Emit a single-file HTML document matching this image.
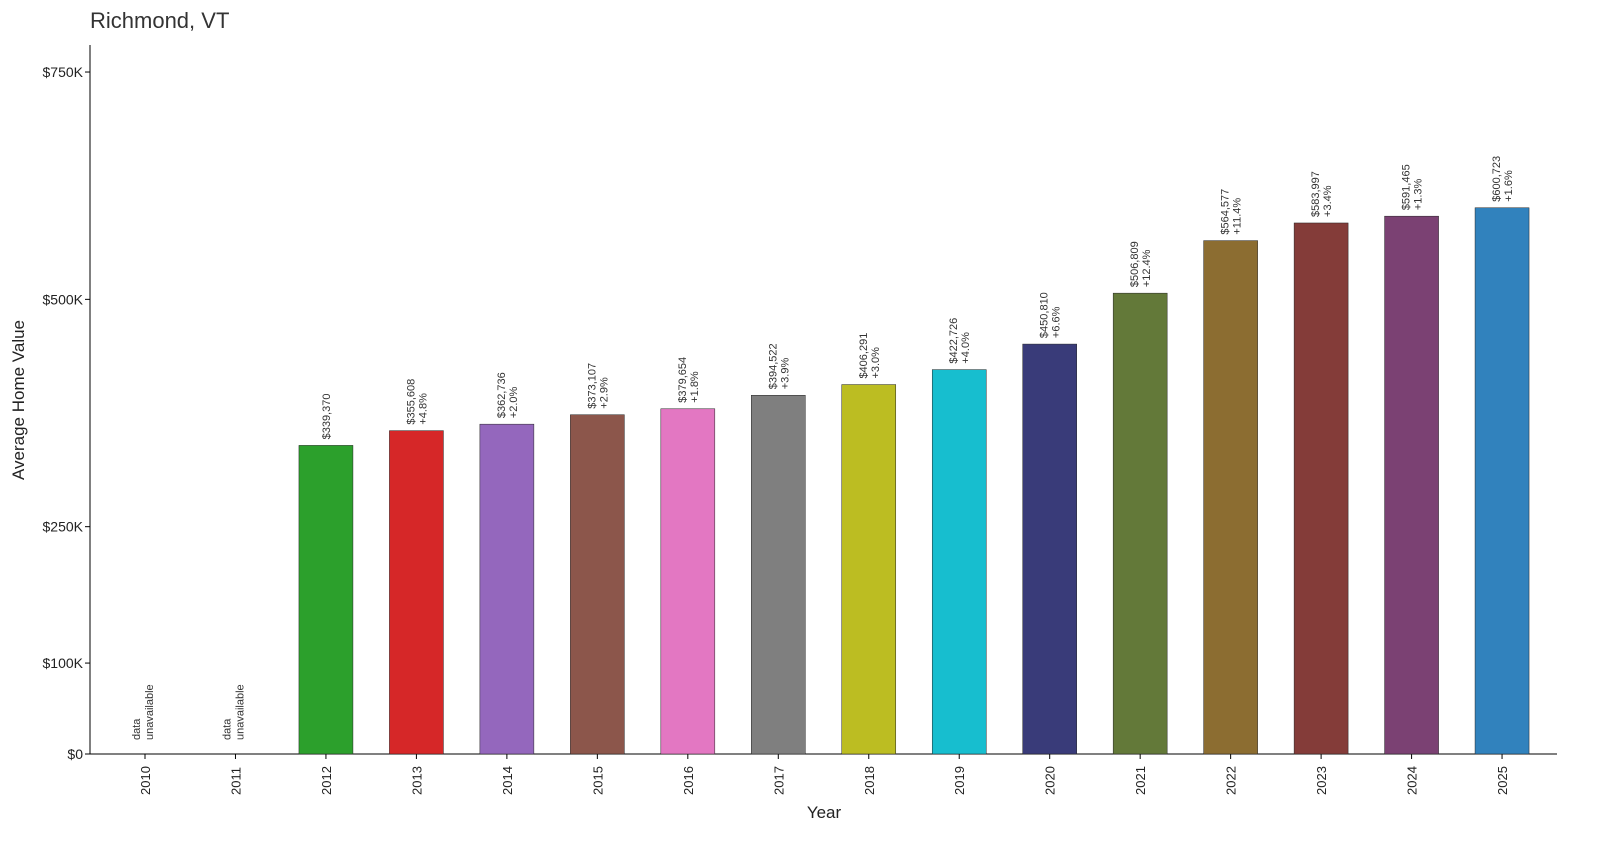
<!DOCTYPE html>
<html><head><meta charset="utf-8"><style>body{margin:0;background:#fff}svg{display:block;font-family:"Liberation Sans","DejaVu Sans",sans-serif}</style></head>
<body>
<svg id="chart" width="1600" height="848" viewBox="0 0 1600 848">
<text x="90" y="28" font-size="22" fill="#333">Richmond, VT</text>
<g id="axes"></g><g id="bars"></g>
<text x="824" y="818" font-size="17" text-anchor="middle" fill="#222">Year</text>
<text transform="translate(24,400) rotate(-90)" font-size="17" text-anchor="middle" fill="#222">Average Home Value</text>
</svg>
<script>
const years=[2010,2011,2012,2013,2014,2015,2016,2017,2018,2019,2020,2021,2022,2023,2024,2025];
const values=[null,null,339370,355608,362736,373107,379654,394522,406291,422726,450810,506809,564577,583997,591465,600723];
const changes=[null,null,null,"+4.8%","+2.0%","+2.9%","+1.8%","+3.9%","+3.0%","+4.0%","+6.6%","+12.4%","+11.4%","+3.4%","+1.3%","+1.6%"];
const colors=["#1f77b4","#ff7f0e","#2ca02c","#d62728","#9467bd","#8c564b","#e377c2","#7f7f7f","#bcbd22","#17becf","#393b79","#637939","#8c6d31","#843c39","#7b4173","#3182bd"];
const yTicks=[0,100000,250000,500000,750000];
const yTickLabels=["$0","$100K","$250K","$500K","$750K"];
const NS="http://www.w3.org/2000/svg";
const y=v=>754-v*0.0009093;
const x=i=>145+i*90.47;
function mk(t,a,p){const e=document.createElementNS(NS,t);for(const k in a)e.setAttribute(k,a[k]);p.appendChild(e);return e;}
const ax=document.getElementById('axes'),bg=document.getElementById('bars');
const yl=mk('line',{x1:90,y1:45,x2:90,y2:754,stroke:'#000','stroke-width':1},ax);


const xl=mk('line',{x1:90,y1:754,x2:1557,y2:754,stroke:'#000','stroke-width':1},ax);


yTicks.forEach((t,i)=>{
 mk('line',{x1:85,x2:90,y1:y(t),y2:y(t),stroke:'#000'},ax);
 const tx=mk('text',{x:83,y:y(t)+5,'font-size':14,'text-anchor':'end',fill:'#222'},ax);
 tx.textContent=yTickLabels[i];
 
 
});
years.forEach((yr,i)=>{
 const cx=x(i);
 mk('line',{x1:cx,x2:cx,y1:754,y2:759,stroke:'#000'},ax);
 const tl=mk('text',{transform:`translate(${cx+5},795) rotate(-90)`,'font-size':13,fill:'#222'},ax);
 tl.textContent=yr;
 
 
 const v=values[i];
 if(v==null){
  const t=mk('text',{transform:`translate(${cx+4},740) rotate(-90)`,'font-size':11,fill:'#333'},bg);
  
  
  const a=mk('tspan',{x:0,dy:-9},t);a.textContent='data';
  const b=mk('tspan',{x:0,dy:13},t);b.textContent='unavailable';
  return;
 }
 const r=mk('rect',{x:cx-27,y:y(v),width:54,height:754-y(v),fill:colors[i],stroke:'#222','stroke-width':0.5},bg);
 
 
 const t=mk('text',{transform:`translate(${cx+4},${y(v)-6}) rotate(-90)`,'font-size':11,fill:'#333'},bg);
 
 
 const s='$'+v.toLocaleString('en-US');
 if(changes[i]){
  const a=mk('tspan',{x:0,dy:-6},t);a.textContent=s;
  const b=mk('tspan',{x:0,dy:12},t);b.textContent=changes[i];
 } else t.textContent=s;
});
</script>
</body></html>
